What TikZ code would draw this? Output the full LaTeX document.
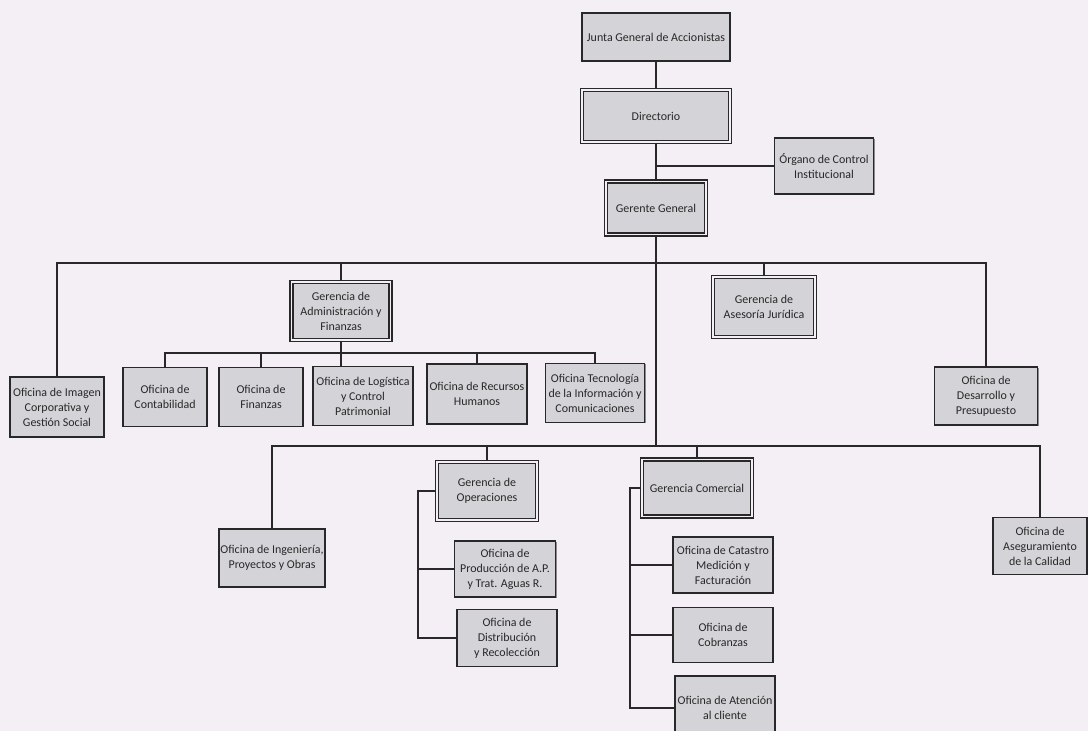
\documentclass[tikz,border=0pt]{standalone}
\usepackage{fontspec}
\setmainfont{Carlito}
\usetikzlibrary{shadows}
\definecolor{paper}{RGB}{243,239,244}
\definecolor{boxgray}{RGB}{212,211,215}
\definecolor{ink}{RGB}{40,40,40}
\tikzset{
	unit/.style={draw=ink, line width=1pt, fill=boxgray, align=center, inner sep=1pt,
		font=\fontsize{8.5}{10.6}\selectfont, text=ink,
		drop shadow={shadow xshift=0.7pt, shadow yshift=-0.7pt, opacity=0.5, fill=ink}},
	head/.style={unit, double=paper, double distance=1.3pt, line width=0.9pt},
	link/.style={draw=ink, line width=0.8pt}
}
\begin{document}
\begin{tikzpicture}[x=0.025cm, y=-0.025cm]
			\fill[paper, use as bounding box] (0,0) rectangle (1088,731);
			\clip (0,0) rectangle (1088,731);
			% top of the chart
			\node[unit, minimum width=3.7cm, minimum height=1.2cm] (junta) at (656,37) {Junta General de Accionistas};
			\node[head, minimum width=3.7cm, minimum height=1.3cm] (dir) at (656,116) {Directorio};
			\node[unit, minimum width=2.475cm, minimum height=1.4cm] (oci) at (824,166) {Órgano de Control\\Institucional};
			\node[head, minimum width=2.5cm, minimum height=1.325cm] (gg) at (656,208) {Gerente General};
			% first row
			\node[unit, minimum width=2.35cm, minimum height=1.5cm] (imagen) at (57,407) {Oficina de Imagen\\Corporativa y\\Gestión Social};
			\node[head, minimum width=2.475cm, minimum height=1.45cm] (gaf) at (341,311) {Gerencia de\\Administración y\\Finanzas};
			\node[head, minimum width=2.55cm, minimum height=1.5cm] (asj) at (764,307) {Gerencia de\\Asesoría Jurídica};
			\node[unit, minimum width=2.575cm, minimum height=1.45cm] (desa) at (986,396) {Oficina de\\Desarrollo y\\Presupuesto};
			% offices of Administracion y Finanzas
			\node[unit, minimum width=2.1cm, minimum height=1.475cm] (conta) at (165,397) {Oficina de\\Contabilidad};
			\node[unit, minimum width=2.1cm, minimum height=1.475cm] (fin) at (261,397) {Oficina de\\Finanzas};
			\node[unit, minimum width=2.5cm, minimum height=1.475cm] (logi) at (363,396) {Oficina de Logística\\y Control\\Patrimonial};
			\node[unit, minimum width=2.5cm, minimum height=1.5cm] (rrhh) at (477,394) {Oficina de Recursos\\Humanos};
			\node[unit, minimum width=2.475cm, minimum height=1.475cm] (tic) at (595,393) {Oficina Tecnología\\de la Información y\\Comunicaciones};
			% second row
			\node[unit, minimum width=2.55cm, minimum height=1.45cm] (ing) at (272,558) {Oficina de Ingeniería,\\Proyectos y Obras};
			\node[head, minimum width=2.5cm, minimum height=1.45cm] (gop) at (487,491) {Gerencia de\\Operaciones};
			\node[unit, minimum width=2.525cm, minimum height=1.4cm] (prod) at (505,569) {Oficina de\\Producción de A.P.\\y Trat. Aguas R.};
			\node[unit, minimum width=2.5cm, minimum height=1.425cm] (dist) at (507,638) {Oficina de\\Distribución\\y Recolección};
			\node[head, minimum width=2.75cm, minimum height=1.425cm] (gcom) at (697,488) {Gerencia Comercial};
			\node[unit, minimum width=2.5cm, minimum height=1.4cm] (cat) at (723,565) {Oficina de Catastro\\Medición y\\Facturación};
			\node[unit, minimum width=2.5cm, minimum height=1.375cm] (cob) at (723,635) {Oficina de\\Cobranzas};
			\node[unit, minimum width=2.5cm, minimum height=1.6cm] (aten) at (725,708) {Oficina de Atención\\al cliente};
			\node[unit, minimum width=2.35cm, minimum height=1.425cm] (aseg) at (1040,546) {Oficina de\\Aseguramiento\\de la Calidad};
			% buses
			\coordinate (busa) at (0,263);
			\coordinate (busb) at (0,353);
			\coordinate (busc) at (0,446);
			\coordinate (opspine) at (418,0);
			\coordinate (comspine) at (630,0);
			% connectors
			\draw[link] (junta) -- (dir);
			\draw[link] (dir) -- (gg);
			\draw[link] (oci.west) -- (oci.west -| gg.north);
			\draw[link] (gg.south) -- (gg.south |- busc);
			\draw[link] (imagen.north) -- (imagen.north |- busa) -- (desa.north |- busa) -- (desa.north);
			\draw[link] (gaf.north) -- (gaf.north |- busa);
			\draw[link] (asj.north) -- (asj.north |- busa);
			\draw[link] (conta.north) -- (conta.north |- busb) -- (tic.north |- busb) -- (tic.north);
			\draw[link] (gaf.south) -- (gaf.south |- logi.north);
			\draw[link] (fin.north) -- (fin.north |- busb);
			\draw[link] (rrhh.north) -- (rrhh.north |- busb);
			\draw[link] (ing.north) -- (ing.north |- busc) -- (aseg.north |- busc) -- (aseg.north);
			\draw[link] (gop.north) -- (gop.north |- busc);
			\draw[link] (gcom.north) -- (gcom.north |- busc);
			\draw[link] (gop.west) -- (gop.west -| opspine) -- (dist.west -| opspine) -- (dist.west);
			\draw[link] (prod.west) -- (prod.west -| opspine);
			\draw[link] (gcom.west) -- (gcom.west -| comspine) -- (aten.west -| comspine) -- (aten.west);
			\draw[link] (cat.west) -- (cat.west -| comspine);
			\draw[link] (cob.west) -- (cob.west -| comspine);
		\end{tikzpicture}
\end{document}
